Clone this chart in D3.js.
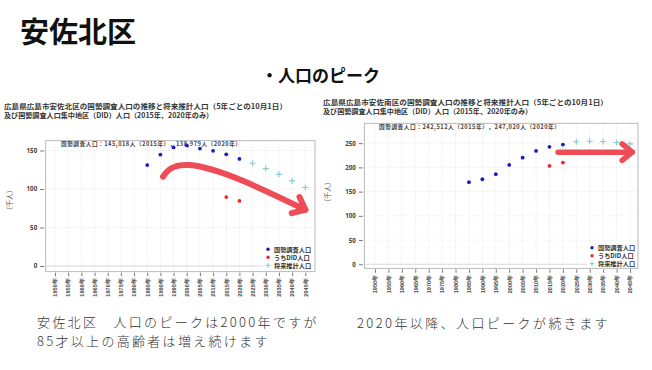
<!DOCTYPE html>
<html><head><meta charset="utf-8">
<script src="https://cdn.jsdelivr.net/npm/d3@7"></script>
<style>
body{margin:0;background:#fff;}
svg{display:block;font-family:"Noto Sans CJK JP","Noto Sans",sans-serif;}
</style></head>
<body><svg id="c" width="652" height="370"></svg>
<script>
// ---- data ----
const years = [1950,1955,1960,1965,1970,1975,1980,1985,1990,1995,2000,2005,2010,2015,2020,2025,2030,2035,2040,2045];
const yTicks = [0,50,100,150,200,250];
const northCensus = [null,null,null,null,null,null,null,131,144.5,154,156.5,152.5,149.5,145.0,139.0,null,null,null,null,null];
const northDID    = [null,null,null,null,null,null,null,null,null,null,null,null,null,89.5,84.5,null,null,null,null,null];
const northProj   = [null,null,null,null,null,null,null,null,null,null,null,null,null,null,null,133.5,126.5,119,110.5,102];
const southCensus = [null,null,null,null,null,null,null,169.5,175.5,186,205,220,234,242.5,247.0,null,null,null,null,null];
const southDID    = [null,null,null,null,null,null,null,null,null,null,null,null,null,203,210,null,null,null,null,null];
const southProj   = [null,null,null,null,null,null,null,null,null,null,null,null,null,null,null,253,254,253.5,251.5,248.5];
const legendLabels = ["国勢調査人口","うちDID人口","将来推計人口"];

const svg = d3.select("#c");
const C_BLUE="#1c1cc0", C_RED="#ec2a2e", C_CYAN="#82cccc", C_ARROW="#ee4c56";

// headings
svg.append("text").attr("x",20).attr("y",43).attr("font-size",29).attr("font-weight","bold").attr("fill","#111").text("安佐北区");
svg.append("text").attr("x",261).attr("y",82).attr("font-size",17).attr("font-weight","bold").attr("fill","#111").text("・人口のピーク");

function drawChart(o){
  const g = svg.append("g");
  const x = d3.scalePoint().domain(years).range([o.x0,o.x1]);
  const step = x.step();
  const xv = yr => o.x0 + (yr-1950)/5*step;
  const y = d3.scaleLinear().domain(o.yDom).range([o.fb,o.ft]);
  // titles
  g.append("text").attr("x",o.tx).attr("y",o.ty).attr("font-size",7.1).attr("font-weight","bold").attr("fill","#333").attr("textLength",o.tw).attr("lengthAdjust","spacingAndGlyphs").text(o.title1);
  g.append("text").attr("x",o.tx).attr("y",o.ty+9.4).attr("font-size",7.1).attr("font-weight","bold").attr("fill","#333").text("及び国勢調査人口集中地区（DID）人口（2015年、2020年のみ）");
  // grid
  const gl = g.append("g").attr("stroke","#e4e4e4").attr("stroke-width",0.7).attr("stroke-dasharray","1.5,1.5");
  years.forEach(v=>gl.append("line").attr("x1",x(v)).attr("x2",x(v)).attr("y1",o.ft).attr("y2",o.fb));
  o.ticks.forEach(v=>gl.append("line").attr("x1",o.fl).attr("x2",o.fr).attr("y1",y(v)).attr("y2",y(v)));
  g.append("line").attr("x1",o.fl).attr("x2",o.fr).attr("y1",y(0)).attr("y2",y(0)).attr("stroke","#d6d6d6").attr("stroke-width",0.8);
  // frame
  g.append("rect").attr("x",o.fl).attr("y",o.ft).attr("width",o.fr-o.fl).attr("height",o.fb-o.ft).attr("fill","none").attr("stroke","#a8a8a8").attr("stroke-width",0.8);
  // y axis
  const ya = g.append("g").attr("transform",`translate(${o.fl-1.5},0)`).call(d3.axisLeft(y).tickValues(o.ticks).tickSize(4).tickPadding(3));
  ya.select(".domain").remove();
  ya.selectAll("line").attr("stroke","#777");
  ya.selectAll("text").attr("font-size",6.2).attr("fill","#444").attr("font-family","Noto Sans,sans-serif").attr("font-weight","bold");
  g.append("text").attr("transform",`translate(${o.ytx},${o.yty}) rotate(-90)`).attr("text-anchor","middle").attr("font-size",7).attr("fill","#555").text("（千人）");
  // x axis
  const xa = g.append("g").attr("transform",`translate(0,${o.fb+1})`).call(d3.axisBottom(x).tickSize(3.5).tickFormat(d=>d+"年"));
  xa.select(".domain").remove();
  xa.selectAll("line").attr("stroke","#777");
  xa.selectAll("text").attr("font-size",5.6).attr("fill","#444").attr("font-weight","bold")
    .attr("text-anchor","end").attr("dy","0.32em").attr("transform","translate(0,5.5) rotate(-90)").attr("y",0).attr("x",0);
  // note
  g.append("text").attr("x",o.nx).attr("y",o.ft+5.3).attr("font-size",5.7).attr("font-weight","bold").attr("fill","#444").attr("textLength",o.nw).attr("lengthAdjust","spacing").text(o.note);
  // points
  const pts = (arr)=>years.map((yr,i)=>({yr,v:arr[i]})).filter(d=>d.v!=null);
  g.selectAll(null).data(pts(o.census)).enter().append("circle").attr("cx",d=>x(d.yr)).attr("cy",d=>y(d.v)).attr("r",1.9).attr("fill",C_BLUE);
  g.selectAll(null).data(pts(o.did)).enter().append("circle").attr("cx",d=>x(d.yr)).attr("cy",d=>y(d.v)).attr("r",1.9).attr("fill",C_RED);
  g.selectAll(null).data(pts(o.proj)).enter().append("path")
    .attr("d",d=>`M${x(d.yr)-3},${y(d.v)}h6M${x(d.yr)},${y(d.v)-3}v6`).attr("stroke",C_CYAN).attr("stroke-width",1.1);
  // legend
  const lg = g.append("g");
  lg.append("rect").attr("x",o.lx-5).attr("y",o.ly-5).attr("width",o.fr-o.lx+4).attr("height",o.fb-o.ly+4).attr("fill","#fff");
  legendLabels.forEach((lab,i)=>{
    const yy=o.ly+i*8;
    if(i<2) lg.append("circle").attr("cx",o.lx).attr("cy",yy).attr("r",1.7).attr("fill",i==0?C_BLUE:C_RED);
    else lg.append("path").attr("d",`M${o.lx-2.5},${yy}h5M${o.lx},${yy-2.5}v5`).attr("stroke",C_CYAN).attr("stroke-width",1);
    lg.append("text").attr("x",o.lx+6).attr("y",yy+2.2).attr("font-size",6.2).attr("font-weight","bold").attr("fill","#333").text(lab);
  });
  return {x:xv,y};
}

const L = drawChart({x0:55,x1:305.3,fl:45.7,fr:315,ft:140.7,fb:271.7,yDom:[-7.4,162.7],ticks:[0,50,100,150],
  tx:4,ty:108.5,tw:283,title1:"広島県広島市安佐北区の国勢調査人口の推移と将来推計人口（5年ごとの10月1日）",
  ytx:12,yty:200,nx:61,nw:180,note:"国勢調査人口：145,018人（2015年），138,979人（2020年）",
  census:northCensus,did:northDID,proj:northProj,lx:268,ly:249.3});
const R = drawChart({x0:375,x1:630,fl:364.3,fr:638,ft:123.3,fb:268.3,yDom:[-8.3,291],ticks:[0,50,100,150,200,250],
  tx:323,ty:104.8,tw:285,title1:"広島県広島市安佐南区の国勢調査人口の推移と将来推計人口（5年ごとの10月1日）",
  ytx:330,yty:192,nx:379,nw:181,note:"国勢調査人口：242,512人（2015年），247,020人（2020年）",
  census:southCensus,did:southDID,proj:southProj,lx:592,ly:247.7});

// annotation arrows (in data space)
function chevron(g,tip,from,len,w){
  const a=Math.atan2(tip[1]-from[1],tip[0]-from[0]);
  [a+Math.PI*0.78,a-Math.PI*0.78].forEach(b=>{
    g.append("line").attr("x1",tip[0]).attr("y1",tip[1]).attr("x2",tip[0]+len*Math.cos(b)).attr("y2",tip[1]+len*Math.sin(b))
     .attr("stroke",C_ARROW).attr("stroke-width",w).attr("stroke-linecap","round");
  });
}
const ag = svg.append("g");
{
  const p=(yr,v)=>[L.x(yr),L.y(v)];
  const s=p(1991,116), c1=p(1993.5,130), c2=p(1997,131.5), pk=p(2001,131);
  const c3=p(2012,128), c4=p(2030,98), e=p(2045,73);
  ag.append("path").attr("d",`M${s}C${c1} ${c2} ${pk}C${c3} ${c4} ${e}`).attr("fill","none").attr("stroke",C_ARROW).attr("stroke-width",6).attr("stroke-linecap","round");
  chevron(ag,e,c4,14,6);
}
{
  const p=(yr,v)=>[R.x(yr),R.y(v)];
  const s=p(2018.2,231.4), e=p(2045.8,231.4);
  ag.append("line").attr("x1",s[0]).attr("y1",s[1]).attr("x2",e[0]).attr("y2",e[1]).attr("stroke",C_ARROW).attr("stroke-width",5.5).attr("stroke-linecap","round");
  chevron(ag,e,s,13,5.5);
}

// captions
const cap = svg.append("g").attr("font-size",13).attr("fill","#333").attr("font-family","'Noto Sans CJK JP',sans-serif").attr("font-weight",300);
cap.append("text").attr("x",37).attr("y",327).attr("letter-spacing",2.3).text("安佐北区　人口のピークは2000年ですが");
cap.append("text").attr("x",37).attr("y",346).attr("letter-spacing",2.3).text("85才以上の高齢者は増え続けます");
cap.append("text").attr("x",357).attr("y",328).attr("letter-spacing",2.4).text("2020年以降、人口ピークが続きます");
</script></body></html>
